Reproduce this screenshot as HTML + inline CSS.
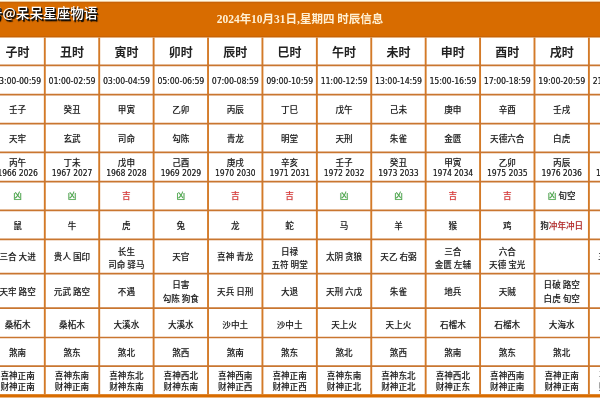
<!DOCTYPE html><html><head><meta charset="utf-8"><title>时辰信息</title><style>
html,body{margin:0;padding:0;background:#fff;}
body{width:600px;height:400px;overflow:hidden;position:relative;will-change:transform;
 font-family:"Liberation Sans","Noto Sans CJK SC",sans-serif;color:#333;}
.grid{position:absolute;left:0;top:0;}
.t,.n,.tm,.c2,.c3,.c4{position:absolute;width:54px;text-align:center;white-space:nowrap;
 font-family:"Noto Sans CJK SC","Liberation Sans",sans-serif;}
.t,.c2,.c3,.c4{text-shadow:0 0 0.7px rgba(0,0,0,0.28);}
.t{font-size:8.6px;line-height:10px;height:10px;margin-top:-5px;color:#222;font-weight:500;}
.c2{font-size:8.6px;line-height:10.5px;height:21px;margin-top:-10.5px;color:#222;font-weight:500;}
.c4{font-size:8.6px;line-height:11px;height:22px;margin-top:-11px;color:#222;font-weight:500;}
.c3{font-size:8.6px;line-height:13.6px;height:27.2px;margin-top:-13.6px;color:#222;font-weight:500;}
.n{font-size:12px;line-height:14px;height:14px;margin-top:-7px;font-weight:bold;color:#222;
 font-family:"Noto Sans CJK SC","Liberation Sans",sans-serif;}
.tm{font-family:"DejaVu Sans",sans-serif;font-stretch:condensed;font-size:8.5px;line-height:10px;height:10px;margin-top:-5px;
 color:#2a2a2a;text-shadow:0.2px 0 0 #555;}
.tm span{display:inline-block;}
.num{display:inline-block;}
.num{font-family:"DejaVu Sans",sans-serif;font-stretch:condensed;font-size:8.3px;font-weight:normal;color:#2a2a2a;text-shadow:0.2px 0 0 #555;}
.g{color:#4cae4c;font-weight:500;}
.r{color:#e23c3c;font-weight:500;}
.dr{color:#bb2a2a;font-weight:500;}
.title{position:absolute;left:0;width:600px;top:13px;text-align:center;font-size:11.5px;line-height:12px;
 font-weight:bold;color:#fff0d4;font-family:"Liberation Serif","Noto Sans CJK SC",serif;}
.wm{position:absolute;left:-11px;top:4px;font-size:13.6px;line-height:16px;color:#fff;font-weight:500;
 font-family:"Noto Sans CJK SC",sans-serif;text-shadow:1px 1px 0 #111,1.5px 1.5px 1px #000;}
</style></head><body>
<svg class="grid" width="600" height="400" viewBox="0 0 600 400"><rect x="0" y="0" width="600" height="2" fill="#fffbe8"/><rect x="0" y="1.8" width="600" height="35.5" fill="#d86c00"/><rect x="0" y="1.8" width="600" height="1.4" fill="#c86306"/><rect x="0" y="36.0" width="600" height="1.3" fill="#c86306"/><line x1="44.80" y1="37.4" x2="44.80" y2="394.2" stroke="#d37a28" stroke-width="1.9"/><line x1="99.21" y1="37.4" x2="99.21" y2="394.2" stroke="#d37a28" stroke-width="1.9"/><line x1="153.62" y1="37.4" x2="153.62" y2="394.2" stroke="#d37a28" stroke-width="1.9"/><line x1="208.03" y1="37.4" x2="208.03" y2="394.2" stroke="#d37a28" stroke-width="1.9"/><line x1="262.44" y1="37.4" x2="262.44" y2="394.2" stroke="#d37a28" stroke-width="1.9"/><line x1="316.85" y1="37.4" x2="316.85" y2="394.2" stroke="#d37a28" stroke-width="1.9"/><line x1="371.26" y1="37.4" x2="371.26" y2="394.2" stroke="#d37a28" stroke-width="1.9"/><line x1="425.67" y1="37.4" x2="425.67" y2="394.2" stroke="#d37a28" stroke-width="1.9"/><line x1="480.08" y1="37.4" x2="480.08" y2="394.2" stroke="#d37a28" stroke-width="1.9"/><line x1="534.49" y1="37.4" x2="534.49" y2="394.2" stroke="#d37a28" stroke-width="1.9"/><line x1="588.90" y1="37.4" x2="588.90" y2="394.2" stroke="#d37a28" stroke-width="1.9"/><line x1="0" y1="65.30" x2="600" y2="65.30" stroke="#c97630" stroke-width="1.7"/><line x1="0" y1="94.70" x2="600" y2="94.70" stroke="#c97630" stroke-width="1.7"/><line x1="0" y1="123.70" x2="600" y2="123.70" stroke="#c97630" stroke-width="1.7"/><line x1="0" y1="152.30" x2="600" y2="152.30" stroke="#c97630" stroke-width="1.7"/><line x1="0" y1="181.70" x2="600" y2="181.70" stroke="#c97630" stroke-width="1.7"/><line x1="0" y1="210.30" x2="600" y2="210.30" stroke="#c97630" stroke-width="1.7"/><line x1="0" y1="239.40" x2="600" y2="239.40" stroke="#c97630" stroke-width="1.7"/><line x1="0" y1="273.70" x2="600" y2="273.70" stroke="#c97630" stroke-width="1.7"/><line x1="0" y1="308.20" x2="600" y2="308.20" stroke="#c97630" stroke-width="1.7"/><line x1="0" y1="337.50" x2="600" y2="337.50" stroke="#c97630" stroke-width="1.7"/><line x1="0" y1="366.20" x2="600" y2="366.20" stroke="#c97630" stroke-width="1.7"/><rect x="0" y="394.2" width="600" height="3.3" fill="#d86c00"/></svg>
<div class="title">2024年10月31日,星期四 时辰信息</div>
<div class="wm">号@呆呆星座物语</div>
<div class="n" style="left:-9.41px;top:51.85px">子时</div>
<div class="tm" style="left:-9.41px;top:81.30px"><span>23:00-00:59</span></div>
<div class="t" style="left:-9.41px;top:108.50px">壬子</div>
<div class="t" style="left:-9.41px;top:138.30px">天牢</div>
<div class="c2" style="left:-9.41px;top:167.30px">丙午<br><span class="num">1966 2026</span></div>
<div class="t" style="left:-9.41px;top:194.70px"><span class="g">凶</span></div>
<div class="t" style="left:-9.41px;top:225.15px">鼠</div>
<div class="t" style="left:-9.41px;top:255.85px">三合 大进</div>
<div class="t" style="left:-9.41px;top:291.25px">天牢 路空</div>
<div class="t" style="left:-9.41px;top:323.85px">桑柘木</div>
<div class="t" style="left:-9.41px;top:352.15px">煞南</div>
<div class="c4" style="left:-9.41px;top:381.10px">喜神正南<br>财神正南</div>
<div class="n" style="left:45.00px;top:51.85px">丑时</div>
<div class="tm" style="left:45.00px;top:81.30px"><span>01:00-02:59</span></div>
<div class="t" style="left:45.00px;top:108.50px">癸丑</div>
<div class="t" style="left:45.00px;top:138.30px">玄武</div>
<div class="c2" style="left:45.00px;top:167.30px">丁未<br><span class="num">1967 2027</span></div>
<div class="t" style="left:45.00px;top:194.70px"><span class="g">凶</span></div>
<div class="t" style="left:45.00px;top:225.15px">牛</div>
<div class="t" style="left:45.00px;top:255.85px">贵人 国印</div>
<div class="t" style="left:45.00px;top:291.25px">元武 路空</div>
<div class="t" style="left:45.00px;top:323.85px">桑柘木</div>
<div class="t" style="left:45.00px;top:352.15px">煞东</div>
<div class="c4" style="left:45.00px;top:381.10px">喜神东南<br>财神正南</div>
<div class="n" style="left:99.41px;top:51.85px">寅时</div>
<div class="tm" style="left:99.41px;top:81.30px"><span>03:00-04:59</span></div>
<div class="t" style="left:99.41px;top:108.50px">甲寅</div>
<div class="t" style="left:99.41px;top:138.30px">司命</div>
<div class="c2" style="left:99.41px;top:167.30px">戊申<br><span class="num">1968 2028</span></div>
<div class="t" style="left:99.41px;top:194.70px"><span class="r">吉</span></div>
<div class="t" style="left:99.41px;top:225.15px">虎</div>
<div class="c3" style="left:99.41px;top:258.35px">长生<br>司命 驿马</div>
<div class="t" style="left:99.41px;top:291.25px">不遇</div>
<div class="t" style="left:99.41px;top:323.85px">大溪水</div>
<div class="t" style="left:99.41px;top:352.15px">煞北</div>
<div class="c4" style="left:99.41px;top:381.10px">喜神东北<br>财神东南</div>
<div class="n" style="left:153.82px;top:51.85px">卯时</div>
<div class="tm" style="left:153.82px;top:81.30px"><span>05:00-06:59</span></div>
<div class="t" style="left:153.82px;top:108.50px">乙卯</div>
<div class="t" style="left:153.82px;top:138.30px">勾陈</div>
<div class="c2" style="left:153.82px;top:167.30px">己酉<br><span class="num">1969 2029</span></div>
<div class="t" style="left:153.82px;top:194.70px"><span class="g">凶</span></div>
<div class="t" style="left:153.82px;top:225.15px">兔</div>
<div class="t" style="left:153.82px;top:255.85px">天官</div>
<div class="c3" style="left:153.82px;top:292.05px">日害<br>勾陈 狗食</div>
<div class="t" style="left:153.82px;top:323.85px">大溪水</div>
<div class="t" style="left:153.82px;top:352.15px">煞西</div>
<div class="c4" style="left:153.82px;top:381.10px">喜神西北<br>财神东南</div>
<div class="n" style="left:208.24px;top:51.85px">辰时</div>
<div class="tm" style="left:208.24px;top:81.30px"><span>07:00-08:59</span></div>
<div class="t" style="left:208.24px;top:108.50px">丙辰</div>
<div class="t" style="left:208.24px;top:138.30px">青龙</div>
<div class="c2" style="left:208.24px;top:167.30px">庚戌<br><span class="num">1970 2030</span></div>
<div class="t" style="left:208.24px;top:194.70px"><span class="r">吉</span></div>
<div class="t" style="left:208.24px;top:225.15px">龙</div>
<div class="t" style="left:208.24px;top:255.85px">喜神 青龙</div>
<div class="t" style="left:208.24px;top:291.25px">天兵 日刑</div>
<div class="t" style="left:208.24px;top:323.85px">沙中土</div>
<div class="t" style="left:208.24px;top:352.15px">煞南</div>
<div class="c4" style="left:208.24px;top:381.10px">喜神西南<br>财神正西</div>
<div class="n" style="left:262.64px;top:51.85px">巳时</div>
<div class="tm" style="left:262.64px;top:81.30px"><span>09:00-10:59</span></div>
<div class="t" style="left:262.64px;top:108.50px">丁巳</div>
<div class="t" style="left:262.64px;top:138.30px">明堂</div>
<div class="c2" style="left:262.64px;top:167.30px">辛亥<br><span class="num">1971 2031</span></div>
<div class="t" style="left:262.64px;top:194.70px"><span class="r">吉</span></div>
<div class="t" style="left:262.64px;top:225.15px">蛇</div>
<div class="c3" style="left:262.64px;top:258.35px">日禄<br>五符 明堂</div>
<div class="t" style="left:262.64px;top:291.25px">大退</div>
<div class="t" style="left:262.64px;top:323.85px">沙中土</div>
<div class="t" style="left:262.64px;top:352.15px">煞东</div>
<div class="c4" style="left:262.64px;top:381.10px">喜神正南<br>财神正西</div>
<div class="n" style="left:317.06px;top:51.85px">午时</div>
<div class="tm" style="left:317.06px;top:81.30px"><span>11:00-12:59</span></div>
<div class="t" style="left:317.06px;top:108.50px">戊午</div>
<div class="t" style="left:317.06px;top:138.30px">天刑</div>
<div class="c2" style="left:317.06px;top:167.30px">壬子<br><span class="num">1972 2032</span></div>
<div class="t" style="left:317.06px;top:194.70px"><span class="g">凶</span></div>
<div class="t" style="left:317.06px;top:225.15px">马</div>
<div class="t" style="left:317.06px;top:255.85px">太阴 贪狼</div>
<div class="t" style="left:317.06px;top:291.25px">天刑 六戊</div>
<div class="t" style="left:317.06px;top:323.85px">天上火</div>
<div class="t" style="left:317.06px;top:352.15px">煞北</div>
<div class="c4" style="left:317.06px;top:381.10px">喜神东南<br>财神正北</div>
<div class="n" style="left:371.46px;top:51.85px">未时</div>
<div class="tm" style="left:371.46px;top:81.30px"><span>13:00-14:59</span></div>
<div class="t" style="left:371.46px;top:108.50px">己未</div>
<div class="t" style="left:371.46px;top:138.30px">朱雀</div>
<div class="c2" style="left:371.46px;top:167.30px">癸丑<br><span class="num">1973 2033</span></div>
<div class="t" style="left:371.46px;top:194.70px"><span class="g">凶</span></div>
<div class="t" style="left:371.46px;top:225.15px">羊</div>
<div class="t" style="left:371.46px;top:255.85px">天乙 右弼</div>
<div class="t" style="left:371.46px;top:291.25px">朱雀</div>
<div class="t" style="left:371.46px;top:323.85px">天上火</div>
<div class="t" style="left:371.46px;top:352.15px">煞西</div>
<div class="c4" style="left:371.46px;top:381.10px">喜神东北<br>财神正北</div>
<div class="n" style="left:425.88px;top:51.85px">申时</div>
<div class="tm" style="left:425.88px;top:81.30px"><span>15:00-16:59</span></div>
<div class="t" style="left:425.88px;top:108.50px">庚申</div>
<div class="t" style="left:425.88px;top:138.30px">金匮</div>
<div class="c2" style="left:425.88px;top:167.30px">甲寅<br><span class="num">1974 2034</span></div>
<div class="t" style="left:425.88px;top:194.70px"><span class="r">吉</span></div>
<div class="t" style="left:425.88px;top:225.15px">猴</div>
<div class="c3" style="left:425.88px;top:258.35px">三合<br>金匮 左辅</div>
<div class="t" style="left:425.88px;top:291.25px">地兵</div>
<div class="t" style="left:425.88px;top:323.85px">石榴木</div>
<div class="t" style="left:425.88px;top:352.15px">煞南</div>
<div class="c4" style="left:425.88px;top:381.10px">喜神西北<br>财神正东</div>
<div class="n" style="left:480.28px;top:51.85px">酉时</div>
<div class="tm" style="left:480.28px;top:81.30px"><span>17:00-18:59</span></div>
<div class="t" style="left:480.28px;top:108.50px">辛酉</div>
<div class="t" style="left:480.28px;top:138.30px">天德六合</div>
<div class="c2" style="left:480.28px;top:167.30px">乙卯<br><span class="num">1975 2035</span></div>
<div class="t" style="left:480.28px;top:194.70px"><span class="r">吉</span></div>
<div class="t" style="left:480.28px;top:225.15px">鸡</div>
<div class="c3" style="left:480.28px;top:258.35px">六合<br>天德 宝光</div>
<div class="t" style="left:480.28px;top:291.25px">天贼</div>
<div class="t" style="left:480.28px;top:323.85px">石榴木</div>
<div class="t" style="left:480.28px;top:352.15px">煞东</div>
<div class="c4" style="left:480.28px;top:381.10px">喜神西南<br>财神正南</div>
<div class="n" style="left:534.69px;top:51.85px">戌时</div>
<div class="tm" style="left:534.69px;top:81.30px"><span>19:00-20:59</span></div>
<div class="t" style="left:534.69px;top:108.50px">壬戌</div>
<div class="t" style="left:534.69px;top:138.30px">白虎</div>
<div class="c2" style="left:534.69px;top:167.30px">丙辰<br><span class="num">1976 2036</span></div>
<div class="t" style="left:534.69px;top:194.70px"><span class="g">凶</span> 旬空</div>
<div class="t" style="left:534.69px;top:225.15px">狗<span class="dr">冲年冲日</span></div>
<div class="c3" style="left:534.69px;top:292.05px">日破 路空<br>白虎 旬空</div>
<div class="t" style="left:534.69px;top:323.85px">大海水</div>
<div class="t" style="left:534.69px;top:352.15px">煞北</div>
<div class="c4" style="left:534.69px;top:381.10px">喜神正南<br>财神正南</div>
<div class="n" style="left:589.10px;top:51.85px">亥时</div>
<div class="tm" style="left:589.10px;top:81.30px"><span>21:00-22:59</span></div>
<div class="t" style="left:589.10px;top:108.50px">癸亥</div>
<div class="t" style="left:589.10px;top:138.30px">玉堂</div>
<div class="c2" style="left:589.10px;top:167.30px">丁巳<br><span class="num">1977 2037</span></div>
<div class="t" style="left:589.10px;top:194.70px"><span class="r">吉</span></div>
<div class="t" style="left:589.10px;top:225.15px">猪</div>
<div class="t" style="left:589.10px;top:255.85px">三合 玉堂</div>
<div class="t" style="left:589.10px;top:291.25px">天牢</div>
<div class="t" style="left:589.10px;top:323.85px">大海水</div>
<div class="t" style="left:589.10px;top:352.15px">煞西</div>
<div class="c4" style="left:589.10px;top:381.10px">喜神东南<br>财神正东</div>
</body></html>
